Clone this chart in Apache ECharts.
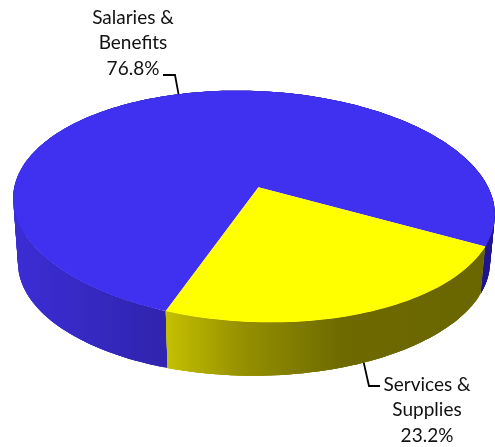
<!DOCTYPE html>
<html>
<head>
<meta charset="utf-8">
<style>html,body{margin:0;padding:0;background:#fff}#chart{width:495px;height:447px}</style>
<script src="https://cdn.jsdelivr.net/npm/echarts@6/dist/echarts.min.js"></script>
</head>
<body>
<div id="chart"></div>
<script>
// Budget split by expense type
const categories = ['Salaries &\nBenefits', 'Services &\nSupplies'];
const shares = [76.8, 23.2];

const topColors = ['#4030f0', '#ffff00'];
const rim = { cx: 254, cy: 206.5, rx: 241, ry: 115.5, roll: 2.5 * Math.PI / 180, baseRoll: 0.5 * Math.PI / 180, leanX: 0.015, leanY: -0.168, depth: 56, baseScale: 0.98 };
// Clockwise angle, in degrees from +x, where the first slice begins
const firstSliceStart = 108;

// Perspective view of a flat disc: a unit circle point is shifted toward the far side, then fitted to the tilted ellipse.
function project(deg, radius, lower) {
  const a = deg * Math.PI / 180;
  const u = radius * Math.cos(a), v = radius * Math.sin(a);
  const kx = rim.leanX, ky = rim.leanY;
  const dx = 1 + kx * u;
  const u1 = (u + kx) / dx, v1 = v * Math.sqrt(1 - kx * kx) / dx;
  const dy = 1 + ky * v1;
  const px = u1 * Math.sqrt(1 - ky * ky) / dy;
  const py = (v1 + ky) / dy;
  const s = lower ? rim.baseScale : 1;
  const ySlope = lower ? rim.baseRoll : rim.roll;
  const ex = px * rim.rx * s, ey = py * rim.ry * s;
  return [
    rim.cx + ex * Math.cos(rim.roll) - ey * Math.sin(rim.roll),
    rim.cy + ex * Math.sin(ySlope) + ey * Math.cos(ySlope) + (lower ? rim.depth : 0)
  ];
}

function arc(from, to, lower) {
  const pts = [], n = Math.ceil(Math.abs(to - from) / 1.5);
  for (let i = 0; i <= n; i++) pts.push(project(from + (to - from) * i / n, 1, lower));
  return pts;
}

const sideFill = [
  new echarts.graphic.LinearGradient(0, 0, 495, 0, [
    { offset: 0, color: '#3c2ed8' }, { offset: 0.32, color: '#3024b0' },
    { offset: 0.9, color: '#2a1ea8' }, { offset: 1, color: '#1c1488' }
  ], true),
  new echarts.graphic.LinearGradient(160, 0, 490, 0, [
    { offset: 0, color: '#c8c400' }, { offset: 0.25, color: '#959000' },
    { offset: 0.55, color: '#6e6a00' }, { offset: 1, color: '#6a6600' }
  ], true)
];

// Leader elbows and label anchors
const labelLayout = [
  { x: 133, y: 18, line: [[175, 75], [163, 75]], onBase: false },
  { x: 427, y: 385, line: [[369, 386], [380, 386]], onBase: true }
];

const total = shares.reduce((s, v) => s + v, 0);
const starts = [];
shares.reduce((acc, v, i) => { starts[i] = acc; return acc + v / total * 360; }, firstSliceStart);

function renderSlice(params, api) {
  const i = params.dataIndex;
  const value = api.value(0);
  const from = starts[i], to = from + value / total * 360;
  const mid = (from + to) / 2;
  const topArc = arc(from, to, false);
  const lowArc = arc(from, to, true);
  const layout = labelLayout[i];
  const anchor = project(mid, 1, layout.onBase);
  const lines = categories[i].split('\n').concat(value.toFixed(1) + '%');
  const children = [];
  // Outer wall as overlapping strips: each covers the soft edge of the one before it
  const last = topArc.length - 1;
  for (let k = 0; k < last; k++) {
    const e = Math.min(k + 3, last);
    children.push({
      type: 'polygon', z2: 1 + i,
      shape: { points: topArc.slice(k, e + 1).concat(lowArc.slice(k, e + 1).reverse()) },
      style: { fill: sideFill[i] }
    });
  }
  children.push(
    { type: 'polygon', z2: 5 + i, shape: { points: [project(0, 0, false)].concat(topArc) }, style: { fill: topColors[i] } },
    { type: 'polyline', z2: 9, shape: { points: [anchor].concat(layout.line) }, style: { stroke: '#000', lineWidth: 1.8, fill: 'none' } }
  );
  lines.forEach((t, n) => children.push({
    type: 'text', z2: 10,
    style: { text: t, x: layout.x, y: layout.y + n * 25.2, align: 'center', verticalAlign: 'middle', font: '19px Lato', fill: '#111' }
  }));
  return { type: 'group', children };
}

const chart = echarts.init(document.getElementById('chart'));
chart.setOption({
  animation: false,
  backgroundColor: '#fff',
  series: [{
    type: 'custom',
    coordinateSystem: 'none',
    silent: true,
    renderItem: renderSlice,
    data: shares.map(v => [v])
  }]
});
</script>
</body>
</html>
